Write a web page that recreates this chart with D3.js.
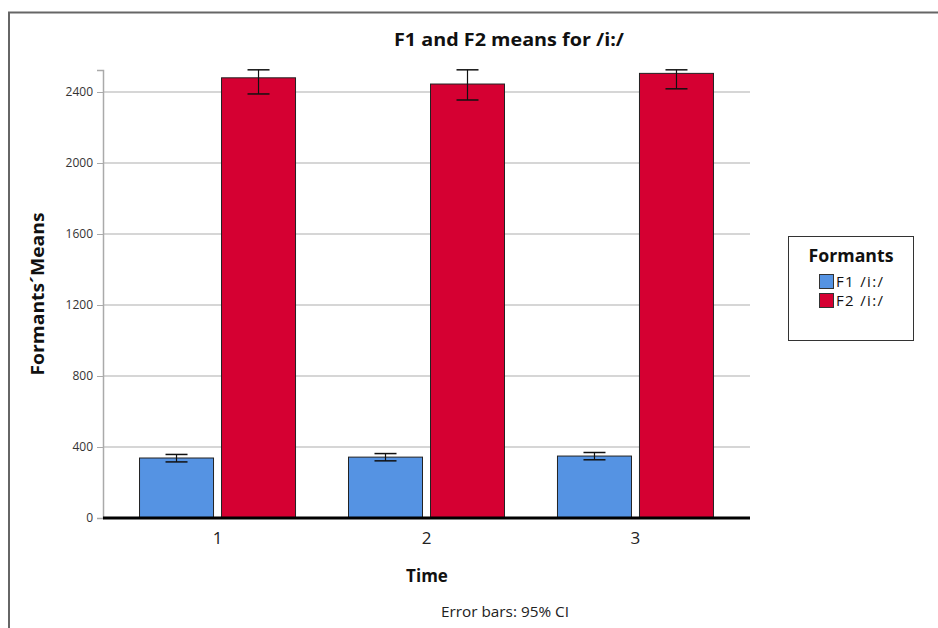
<!DOCTYPE html>
<html><head><meta charset="utf-8">
<script src="https://cdn.jsdelivr.net/npm/d3@7"></script>
<style>body{margin:0;background:#fff;} svg{display:block;}</style>
</head><body>
<svg id="c" width="938" height="628"></svg>
<script>
const categories = ["1","2","3"];
const seriesNames = ["F1 /i:/","F2 /i:/"];
const f1Means = [338, 343, 349];
const f1Lo = [316, 322, 328];
const f1Hi = [358, 363, 369];
const f2Means = [2480, 2445, 2505];
const f2Lo = [2389, 2355, 2418];
const f2Hi = [2525, 2525, 2525];
const yTicks = [0, 400, 800, 1200, 1600, 2000, 2400];
const colors = ["#5593e3", "#d50032"];

const svg = d3.select("#c");
const font = "'Open Sans', 'DejaVu Sans', sans-serif";
svg.append("rect").attr("x", 9).attr("y", 12.5).attr("width", 1000).attr("height", 700)
  .attr("fill", "#fff").attr("stroke", "#666").attr("stroke-width", 2);

const y = d3.scaleLinear().domain([0, 2524]).range([518, 70]);
const x = d3.scalePoint().domain(categories).range([103, 750]).padding(0.548);
const bw = 74, gap = 8;

// grid
svg.append("g").selectAll("line").data(yTicks.filter(d => d > 0)).join("line")
  .attr("x1", 103).attr("x2", 750).attr("y1", d => y(d)).attr("y2", d => y(d))
  .attr("stroke", "#c8c8c8").attr("stroke-width", 1.3);

// y axis
const ya = svg.append("g").attr("transform", "translate(103,0)")
  .call(d3.axisLeft(y).tickValues(yTicks).tickSize(6).tickPadding(4).tickFormat(d3.format("d")));
ya.select(".domain").attr("stroke", "#aaa").attr("stroke-width", 1.5);
ya.selectAll(".tick line").attr("stroke", "#aaa");
ya.selectAll("text").attr("font-family", font).attr("font-size", 12).attr("fill", "#333");

const series = [
  {name: seriesNames[0], m: f1Means, lo: f1Lo, hi: f1Hi, c: colors[0], off: -gap/2 - bw},
  {name: seriesNames[1], m: f2Means, lo: f2Lo, hi: f2Hi, c: colors[1], off: gap/2}
];
series.forEach(s => {
  const g = svg.append("g");
  g.selectAll("rect").data(categories).join("rect")
    .attr("x", (d) => x(d) + s.off).attr("width", bw)
    .attr("y", (d, i) => y(s.m[i])).attr("height", (d, i) => y(0) - y(s.m[i]))
    .attr("fill", s.c).attr("stroke", "#222").attr("stroke-width", 1);
  categories.forEach((d, i) => {
    const cx = x(d) + s.off + bw / 2;
    g.append("line").attr("x1", cx).attr("x2", cx).attr("y1", y(s.lo[i])).attr("y2", y(s.hi[i]))
      .attr("stroke", "#111").attr("stroke-width", 1.2);
    [s.lo[i], s.hi[i]].forEach(v => g.append("line").attr("x1", cx - 11).attr("x2", cx + 11)
      .attr("y1", y(v)).attr("y2", y(v)).attr("stroke", "#111").attr("stroke-width", 1.5));
  });
});

// baseline
svg.append("line").attr("x1", 103).attr("x2", 750).attr("y1", y(0)).attr("y2", y(0))
  .attr("stroke", "#000").attr("stroke-width", 3);

// x tick labels
svg.append("g").selectAll("text").data(categories).join("text")
  .attr("x", d => x(d)).attr("y", 544).attr("text-anchor", "middle")
  .attr("font-family", font).attr("font-size", 17).attr("fill", "#222").text(d => d);

// titles
svg.append("text").attr("x", 509).attr("y", 46).attr("text-anchor", "middle")
  .attr("font-family", font).attr("font-weight", "bold").attr("font-size", 17).attr("fill", "#111")
  .attr("textLength", 230).attr("lengthAdjust", "spacingAndGlyphs")
  .text("F1 and F2 means for /i:/");
svg.append("text").attr("x", 427).attr("y", 582).attr("text-anchor", "middle")
  .attr("font-family", font).attr("font-weight", "bold").attr("font-size", 17).attr("fill", "#111")
  .text("Time");
svg.append("text").attr("transform", "translate(44,294) rotate(-90)").attr("text-anchor", "middle")
  .attr("font-family", font).attr("font-weight", "bold").attr("font-size", 18).attr("fill", "#111")
  .attr("textLength", 163).attr("lengthAdjust", "spacingAndGlyphs")
  .text("Formants´Means");
svg.append("text").attr("x", 505).attr("y", 617).attr("text-anchor", "middle")
  .attr("font-family", font).attr("font-size", 14).attr("fill", "#222")
  .attr("textLength", 128).attr("lengthAdjust", "spacingAndGlyphs")
  .text("Error bars: 95% CI");

// legend
const lg = svg.append("g");
lg.append("rect").attr("x", 788.5).attr("y", 236.5).attr("width", 125).attr("height", 104)
  .attr("fill", "#fff").attr("stroke", "#333").attr("stroke-width", 1);
lg.append("text").attr("x", 851).attr("y", 262).attr("text-anchor", "middle")
  .attr("font-family", font).attr("font-weight", "bold").attr("font-size", 17).attr("fill", "#111")
  .attr("textLength", 85).attr("lengthAdjust", "spacingAndGlyphs")
  .text("Formants");
seriesNames.forEach((n, i) => {
  lg.append("rect").attr("x", 819.5).attr("y", 274.5 + i * 19).attr("width", 14).attr("height", 14)
    .attr("fill", colors[i]).attr("stroke", "#333");
  lg.append("text").attr("x", 836).attr("y", 287 + i * 19)
    .attr("font-family", font).attr("font-size", 15).attr("fill", "#111")
    .attr("textLength", 47).attr("lengthAdjust", "spacing").text(n);
});
</script>
</body></html>
